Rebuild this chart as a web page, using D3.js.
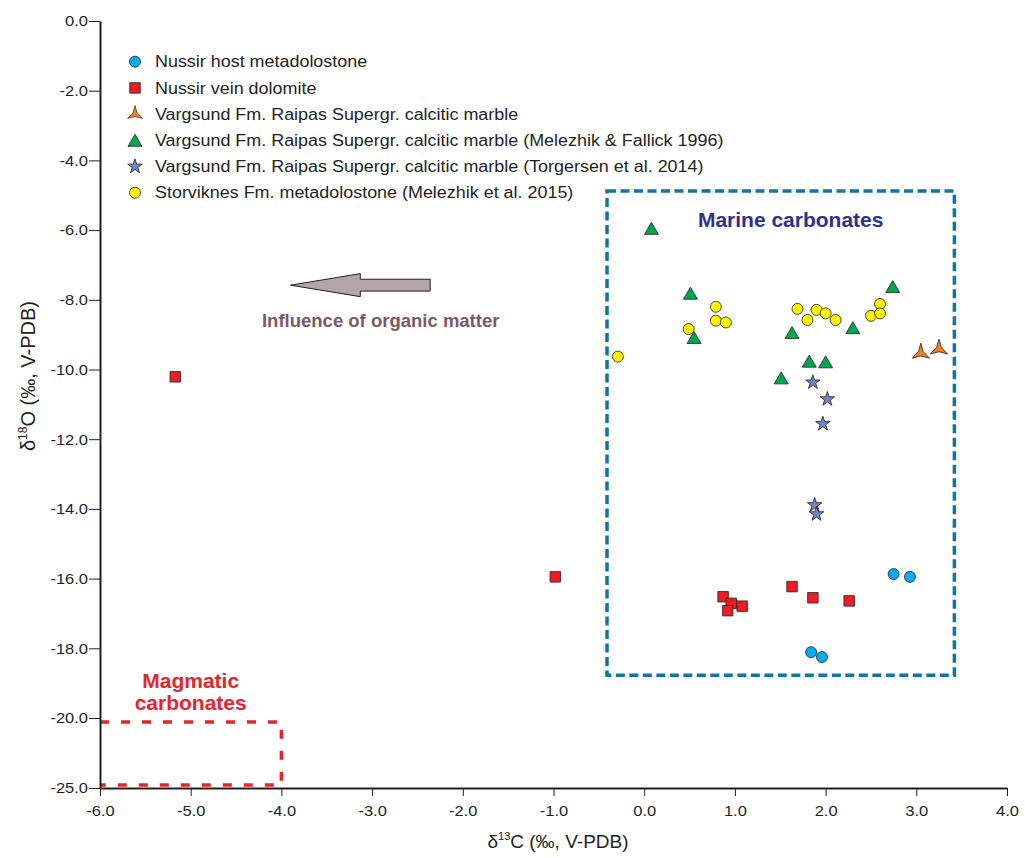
<!DOCTYPE html>
<meta charset="utf-8">
<style>

body { margin: 0; background: #fff; }

.axis text {
  font: 15px "Liberation Sans", Arial, sans-serif;
  fill: #231f20;
}

.axis line { stroke: #231f20; stroke-width: 1; }
.axis path { stroke: #231f20; stroke-width: 2; }

.legend text {
  font: 16px "Liberation Sans", Arial, sans-serif;
  fill: #231f20;
}

.marks path {
  stroke: #231f20;
  stroke-width: 0.8;
}

</style>
<svg width="1025" height="858"></svg>
<script src="https://d3js.org/d3.v7.min.js"></script>
<script>

// delta13C, delta18O pairs
var nussirHost = [[2.75,-15.87],[2.93,-15.95],[1.84,-18.11],[1.96,-18.25]];
var nussirVein = [[-5.17,-10.21],[-0.98,-15.95],[1.63,-16.23],[1.86,-16.55],[2.26,-16.64],
                  [0.87,-16.52],[0.96,-16.71],[1.08,-16.79],[0.92,-16.92]];
var vargsund = [[3.05,-9.53],[3.25,-9.41]];
var vargsundMF = [[0.08,-5.95],[0.51,-7.81],[0.55,-9.08],[1.63,-8.94],[2.30,-8.80],
                  [2.74,-7.62],[1.82,-9.76],[2.00,-9.78],[1.51,-10.24]];
var vargsundT = [[1.86,-10.37],[2.02,-10.85],[1.97,-11.56],[1.88,-13.89],[1.90,-14.15]];
var storviknes = [[0.79,-8.20],[0.79,-8.60],[0.90,-8.65],[0.49,-8.84],[-0.29,-9.63],
                  [1.69,-8.26],[1.80,-8.58],[1.90,-8.29],[2.00,-8.39],[2.11,-8.58],
                  [2.50,-8.46],[2.60,-8.12],[2.60,-8.39]];

var legendLabels = ["Nussir host metadolostone",
                    "Nussir vein dolomite",
                    "Vargsund Fm. Raipas Supergr. calcitic marble",
                    "Vargsund Fm. Raipas Supergr. calcitic marble (Melezhik & Fallick 1996)",
                    "Vargsund Fm. Raipas Supergr. calcitic marble (Torgersen et al. 2014)",
                    "Storviknes Fm. metadolostone (Melezhik et al. 2015)"];

var xTicks = [-6,-5,-4,-3,-2,-1,0,1,2,3,4];
var yTicks = [0,-2,-4,-6,-8,-10,-12,-14,-16,-18,-20,-25];

// boxes and arrow in data units
var marineBox = [-0.41, 3.42, -4.88, -18.77];
var magmaticBox = [-6, -4, -20.29, -24.79];
var arrowPts = [[-3.90,-7.58],[-3.13,-7.25],[-3.13,-7.41],[-2.36,-7.41],[-2.36,-7.75],[-3.13,-7.75],[-3.13,-7.91]];


var svg = d3.select("svg");

var x = d3.scaleLinear().domain([-6, 4]).range([100, 1007]);
// broken axis: -20 to -25 squeezed into one tick step
var y = d3.scaleLinear().domain([-25, -20, 0]).range([788, 718, 21]);

function widen(sel, k) {
  sel.each(function() {
    var w = this.getComputedTextLength();
    d3.select(this).attr("textLength", w * k).attr("lengthAdjust", "spacingAndGlyphs");
  });
}

var fmt = function(d) { return d.toFixed(1); };

// shapes
var triPath = "M0,-6L7,6L-7,6Z";
function triStar(R, r) {
  var p = [];
  for (var i = 0; i < 6; i++) {
    var a = -Math.PI / 2 + i * Math.PI / 3, rr = i % 2 ? r : R;
    p.push([rr * Math.cos(a), rr * Math.sin(a)]);
  }
  return "M" + p.join("L") + "Z";
}
var shapes = {
  circle: d3.symbol().type(d3.symbolCircle).size(Math.PI * 5.5 * 5.5)(),
  square: "M-5.25,-5.25h10.5v10.5h-10.5Z",
  tristar: triStar(10, 2.8),
  triangle: triPath,
  star: d3.symbol().type(d3.symbolStar).size(66)()
};

var series = [
  {pts: storviknes, shape: "circle", fill: "#fff200"},
  {pts: vargsundMF, shape: "triangle", fill: "#00a651"},
  {pts: vargsundT, shape: "star", fill: "#6c87c6"},
  {pts: vargsund, shape: "tristar", fill: "#f58220"},
  {pts: nussirVein, shape: "square", fill: "#ed1c24"},
  {pts: nussirHost, shape: "circle", fill: "#00aeef"}
];
var legendOrder = [
  {shape: "circle", fill: "#00aeef"},
  {shape: "square", fill: "#ed1c24"},
  {shape: "tristar", fill: "#f58220", scale: 0.85},
  {shape: "triangle", fill: "#00a651"},
  {shape: "star", fill: "#6c87c6"},
  {shape: "circle", fill: "#fff200"}
];

// region boxes
svg.append("rect")
    .attr("x", x(marineBox[0]))
    .attr("y", y(marineBox[2]))
    .attr("width", x(marineBox[1]) - x(marineBox[0]))
    .attr("height", y(marineBox[3]) - y(marineBox[2]))
    .attr("fill", "none")
    .attr("stroke", "#0f76a3")
    .attr("stroke-width", 3.5)
    .attr("stroke-dasharray", "9,4.5");

svg.append("path")
    .attr("d", "M" + x(magmaticBox[0]) + "," + y(magmaticBox[2]) +
               "H" + x(magmaticBox[1]) + "V" + y(magmaticBox[3]) + "H" + x(magmaticBox[0]))
    .attr("fill", "none")
    .attr("stroke", "#e3262d")
    .attr("stroke-width", 3.5)
    .attr("stroke-dasharray", "9,12");

// axes
var xAxis = svg.append("g")
    .attr("class", "axis")
    .attr("transform", "translate(0," + y(-25) + ")")
    .call(d3.axisBottom(x).tickValues(xTicks).tickFormat(fmt).tickSize(8).tickSizeOuter(0).tickPadding(9));

var yAxis = svg.append("g")
    .attr("class", "axis")
    .attr("transform", "translate(" + x(-6) + ",0)")
    .call(d3.axisLeft(y).tickValues(yTicks).tickFormat(fmt).tickSize(11).tickSizeOuter(0).tickPadding(1));

xAxis.selectAll("text").call(widen, 1.1);
yAxis.selectAll("text").call(widen, 1.1);

// axis titles
var xt = svg.append("text")
    .attr("x", 558)
    .attr("y", 848)
    .attr("text-anchor", "middle")
    .style("font", "19px 'Liberation Sans', Arial, sans-serif")
    .attr("fill", "#231f20");
xt.append("tspan").text("δ");
xt.append("tspan").attr("font-size", 11).attr("dy", -8).text("13");
xt.append("tspan").attr("dy", 8).text("C (‰, V-PDB)");

var yt = svg.append("text")
    .attr("transform", "translate(35,376) rotate(-90)")
    .attr("text-anchor", "middle")
    .style("font", "20px 'Liberation Sans', Arial, sans-serif")
    .attr("fill", "#231f20");
yt.append("tspan").text("δ");
yt.append("tspan").attr("font-size", 12).attr("dy", -8).text("18");
yt.append("tspan").attr("dy", 8).text("O (‰, V-PDB)");

// arrow and labels
svg.append("path")
    .attr("d", "M" + arrowPts.map(function(p) { return [x(p[0]), y(p[1])]; }).join("L") + "Z")
    .attr("fill", "#b5a5ab")
    .attr("stroke", "#231f20")
    .attr("stroke-width", 1);

svg.append("text")
    .attr("x", x(-2.905))
    .attr("y", y(-8.78))
    .attr("text-anchor", "middle")
    .style("font", "bold 18.5px 'Liberation Sans', Arial, sans-serif")
    .attr("fill", "#7b5866")
    .text("Influence of organic matter");

svg.append("text")
    .attr("x", x(1.615))
    .attr("y", y(-5.9))
    .attr("text-anchor", "middle")
    .style("font", "bold 21px 'Liberation Sans', Arial, sans-serif")
    .attr("fill", "#2e3192")
    .text("Marine carbonates");

svg.append("g")
    .selectAll("text")
    .data([["Magmatic", -19.15], ["carbonates", -19.78]])
    .enter().append("text")
    .attr("x", x(-5))
    .attr("y", function(d) { return y(d[1]); })
    .attr("text-anchor", "middle")
    .style("font", "bold 21px 'Liberation Sans', Arial, sans-serif")
    .attr("fill", "#e3262d")
    .text(function(d) { return d[0]; });

// data points
var marks = svg.append("g").attr("class", "marks");
series.forEach(function(s) {
  marks.append("g")
    .selectAll("path")
    .data(s.pts)
    .enter().append("path")
      .attr("d", shapes[s.shape])
      .attr("fill", s.fill)
      .attr("transform", function(d) { return "translate(" + x(d[0]) + "," + y(d[1]) + ")"; });
});

// legend
var legend = svg.append("g")
    .attr("class", "legend marks")
    .selectAll("g")
    .data(legendOrder)
    .enter().append("g")
    .attr("transform", function(d, i) { return "translate(135," + (61.7 + i * 26.2) + ")"; });

legend.append("path")
    .attr("d", function(d) { return shapes[d.shape]; })
    .attr("transform", function(d) { return d.scale ? "scale(" + d.scale + ")" : null; })
    .attr("fill", function(d) { return d.fill; });

legend.append("text")
    .attr("x", 20)
    .attr("dy", "0.36em")
    .text(function(d, i) { return legendLabels[i]; })
    .call(widen, 1.12);

</script>
